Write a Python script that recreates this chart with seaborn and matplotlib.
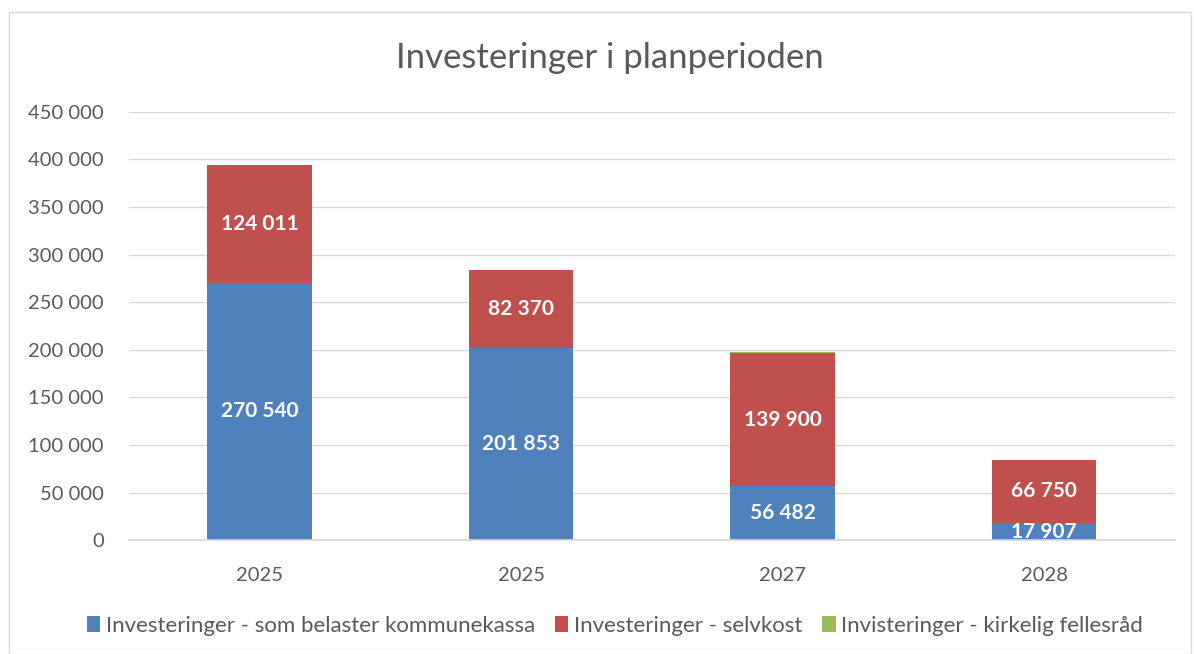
import numpy as np
import pandas as pd
import seaborn as sns
import matplotlib.pyplot as plt
from matplotlib.patches import Rectangle, Patch

years = ["2025", "2025", "2027", "2028"]
kommunekassa = [270540, 201853, 56482, 17907]
selvkost = [124011, 82370, 139900, 66750]
fellesrad = [0, 0, 1500, 0]

series_names = ["Investeringer - som belaster kommunekassa",
                "Investeringer - selvkost",
                "Invisteringer - kirkelig fellesråd"]
colors = ["#4F81BD", "#C0504D", "#9BBB59"]

sns.set_theme(style="white")
plt.rcParams['font.family'] = ['Lato', 'DejaVu Sans']

df = pd.DataFrame({
    'pos': range(len(years)),
    'blue': kommunekassa,
    'red': selvkost,
    'green': fellesrad,
})
df['lvl1'] = df['blue']
df['lvl2'] = df['blue'] + df['red']
df['lvl3'] = df['lvl2'] + df['green']

fig = plt.figure(figsize=(11.94, 6.54), dpi=100)
ax = fig.add_axes([0.108, 0.174, 0.876, 0.655])

# draw cumulative totals from top down so each layer shows as a stacked segment
for col, c in [('lvl3', colors[2]), ('lvl2', colors[1]), ('lvl1', colors[0])]:
    sns.barplot(data=df, x='pos', y=col, color=c, width=0.4, ax=ax,
                saturation=1, linewidth=0)

def fmt(v):
    return f"{v:,.0f}".replace(",", " ")

for i in range(len(years)):
    b, r = kommunekassa[i], selvkost[i]
    ax.text(i, b / 2, fmt(b), ha='center', va='center', color='white',
            fontsize=15, fontweight='bold')
    ax.text(i, b + r / 2, fmt(r), ha='center', va='center', color='white',
            fontsize=15, fontweight='bold')

ax.set_ylim(0, 450000)
ax.set_xlim(-0.5, 3.5)
ax.set_yticks(np.arange(0, 450001, 50000))
ax.set_yticklabels([fmt(v) for v in np.arange(0, 450001, 50000)])
ax.set_xticks(range(len(years)))
ax.set_xticklabels(years)
ax.tick_params(axis='both', labelsize=14.5, colors='#595959', length=0)
ax.tick_params(axis='x', pad=19)
ax.tick_params(axis='y', pad=18)
ax.yaxis.grid(True, color='#D9D9D9', linewidth=1)
ax.set_axisbelow(True)
ax.set_xlabel('')
ax.set_ylabel('')
for s in ['top', 'right', 'left']:
    ax.spines[s].set_visible(False)
ax.spines['bottom'].set_color('#D9D9D9')

fig.text(0.511, 0.911, "Investeringer i planperioden", ha='center', va='center',
         fontsize=25, color='#595959')

handles = [Patch(facecolor=c, edgecolor='none') for c in colors]
fig.legend(handles, series_names, loc='center', bbox_to_anchor=(0.515, 0.043),
           ncol=3, frameon=False, fontsize=16, handlelength=0.6,
           handleheight=0.7, handletextpad=0.25, columnspacing=0.9,
           labelcolor='#595959')

fig.patches.append(Rectangle((0.0075, 0.0), 0.99, 0.9817, transform=fig.transFigure,
                             fill=False, edgecolor='#D9D9D9', linewidth=1))

fig.savefig('out.png', dpi=100)
